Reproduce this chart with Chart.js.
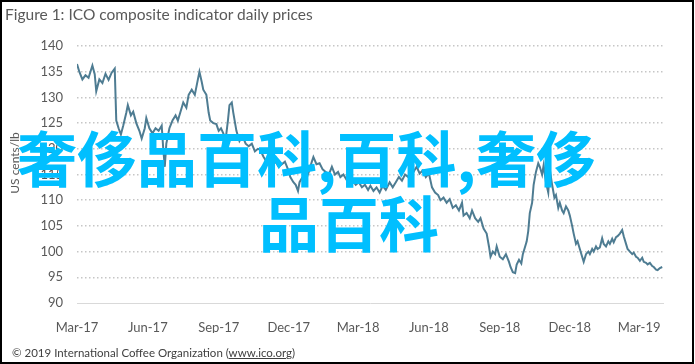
<!DOCTYPE html>
<html>
<head>
<meta charset="utf-8">
<script src="https://cdn.jsdelivr.net/npm/chart.js@4.4.1/dist/chart.umd.min.js"></script>
<style>
  html, body { margin: 0; padding: 0; background: #fff; }
  #wrap { position: relative; width: 695px; height: 364px; overflow: hidden; }
  #frame { position: absolute; left: 0; top: 0; width: 694px; height: 364px; box-sizing: border-box; border: 2px solid #000; pointer-events: none; }
  #chart-box { position: absolute; left: 0; top: 0; width: 695px; height: 364px; }
  .txt { position: absolute; font-family: Lato, 'Open Sans', sans-serif; color: #595959; white-space: nowrap; }
  #title { left: 5px; top: 5px; font-size: 15.5px; }
  #ytitle { left: 14px; top: 163px; font-size: 12px; transform: translate(-50%, -50%) rotate(-90deg); }
  #footer { left: 12px; top: 346px; font-size: 11.5px; color: #404040; }
  #footer u { text-decoration: underline; }
  .mark { position: absolute; font-family: 'Noto Sans CJK SC', sans-serif; font-weight: 700; font-size: 60px; line-height: 60px; color: #00bfff; white-space: nowrap; pointer-events: none; }
  #mark1 { left: 17px; top: 126px; }
  #mark2 { left: 259px; top: 191px; }
</style>
</head>
<body>
<div id="wrap">
  <div id="chart-box"><canvas id="main-chart"></canvas></div>
  <div class="txt" id="title">Figure 1: ICO composite indicator daily prices</div>
  <div class="txt" id="ytitle">US cents/lb</div>
  <div class="txt" id="footer">© 2019 International Coffee Organization (<u>www.ico.org</u>)</div>
  <div class="mark" id="mark1">奢侈品百科,百科,奢侈</div>
  <div class="mark" id="mark2">品百科</div>
  <div id="frame"></div>
</div>
<script>
// days since 1 Mar 2017
const days = [0, 3, 7, 11, 15, 20, 23, 25, 29, 33, 37, 41, 45, 49, 51, 54, 57, 60, 64, 66,
  70, 73, 77, 81, 84, 88, 90, 94, 98, 102, 106, 110, 112, 114, 116, 120, 124, 128, 131, 135,
  138, 142, 145, 149, 153, 157, 159, 162, 164, 168, 171, 173, 177, 181, 184, 187, 190, 193, 196, 198,
  201, 203, 207, 211, 215, 219, 223, 227, 231, 235, 238, 242, 246, 250, 254, 258, 262, 266, 270, 274,
  277, 281, 284, 287, 289, 293, 297, 301, 305, 307, 311, 315, 319, 323, 327, 331, 335, 339, 342, 346,
  350, 354, 358, 362, 366, 370, 374, 378, 381, 385, 389, 393, 397, 401, 406, 410, 414, 418, 422, 426,
  430, 433, 437, 441, 445, 449, 453, 457, 461, 465, 469, 472, 476, 480, 484, 488, 492, 496, 500, 502,
  506, 510, 513, 517, 521, 524, 528, 532, 535, 537, 540, 543, 545, 549, 553, 557, 561, 563, 566, 569,
  571, 574, 577, 579, 582, 584, 586, 588, 591, 593, 596, 599, 601, 604, 606, 609, 612, 614, 617, 620,
  622, 625, 627, 630, 632, 635, 638, 640, 643, 645, 648, 650, 653, 656, 658, 661, 664, 666, 669, 671,
  674, 676, 679, 682, 684, 687, 690, 692, 695, 697, 700, 702, 705, 708, 710, 713, 715, 718, 721, 723,
  726, 728, 731, 734, 736, 739, 741, 744, 747, 749, 752, 754, 757, 760];
const prices = [136.5, 135.0, 133.5, 134.3, 133.8, 136.2, 134.5, 131.2, 133.5, 132.8, 134.6, 133.4, 134.8, 135.6, 125.5, 124.0, 122.8, 124.5, 127.0, 128.5,
  126.5, 127.2, 125.0, 123.5, 122.0, 124.0, 126.0, 124.0, 123.0, 124.0, 123.5, 124.5, 120.0, 116.5, 121.0, 124.0, 125.5, 126.5, 125.5, 127.5,
  129.0, 128.0, 130.5, 131.5, 130.5, 133.5, 135.0, 133.0, 131.5, 130.5, 127.0, 125.5, 125.0, 124.8, 123.5, 124.0, 123.0, 121.8, 125.5, 128.5,
  129.0, 127.0, 123.5, 121.5, 122.5, 121.0, 120.5, 121.0, 119.5, 120.0, 119.8, 118.5, 117.5, 118.2, 116.8, 117.5, 116.5, 117.0, 117.5, 116.0,
  114.5, 113.5, 113.0, 111.8, 113.5, 114.5, 113.8, 115.5, 117.5, 118.4, 117.0, 117.2, 116.0, 115.5, 115.0, 116.5, 115.0, 115.5, 114.5, 115.0,
  114.0, 114.8, 113.8, 113.0, 113.5, 112.5, 113.0, 112.0, 112.8, 111.8, 112.5, 111.5, 112.8, 112.0, 113.5, 112.5, 113.5, 114.5, 113.8, 115.0,
  114.5, 116.0, 115.5, 116.5, 115.2, 115.8, 114.5, 115.2, 112.5, 111.5, 111.0, 110.0, 110.5, 109.5, 110.2, 108.5, 109.0, 108.0, 109.5, 107.0,
  107.5, 106.5, 108.0, 106.5, 105.8, 106.5, 104.5, 103.5, 101.0, 99.0, 100.0, 99.5, 101.0, 99.0, 98.5, 99.5, 98.0, 97.0, 96.0, 95.8,
  97.5, 98.4, 97.7, 99.5, 101.0, 102.0, 104.0, 107.5, 109.5, 113.0, 115.5, 117.2, 116.5, 115.0, 116.8, 113.5, 111.5, 116.0, 113.0, 110.5,
  111.0, 108.5, 109.5, 108.0, 107.5, 108.8, 108.0, 107.0, 105.0, 103.5, 101.5, 102.0, 100.5, 99.0, 98.0, 99.5, 100.0, 99.5, 100.5, 100.0,
  101.0, 100.5, 100.8, 102.6, 101.5, 101.0, 102.0, 101.5, 102.5, 101.8, 102.8, 103.0, 103.5, 104.2, 103.0, 101.5, 100.5, 100.0, 99.5, 99.8,
  99.0, 98.8, 98.2, 98.8, 98.0, 97.8, 97.5, 97.8, 97.2, 97.0, 96.5, 96.4, 96.8, 97.0];

const tickDays = [0, 92, 184, 275, 365, 457, 549, 640, 730];
const tickLabels = ['Mar-17', 'Jun-17', 'Sep-17', 'Dec-17', 'Mar-18', 'Jun-18', 'Sep-18', 'Dec-18', 'Mar-19'];

const tickFont = { family: 'Lato, "Open Sans", sans-serif', size: 13 };

new Chart(document.getElementById('main-chart'), {
  type: 'line',
  data: {
    datasets: [{
      data: days.map((d, i) => ({ x: d, y: prices[i] })),
      borderColor: '#4e7c92',
      borderWidth: 2,
      pointRadius: 0,
      tension: 0,
      fill: false
    }]
  },
  options: {
    responsive: true,
    maintainAspectRatio: false,
    animation: false,
    layout: { padding: { top: 46, right: 32, bottom: 31, left: 0 } },
    plugins: { legend: { display: false }, tooltip: { enabled: false } },
    scales: {
      x: {
        type: 'linear', min: 0, max: 761,
        afterBuildTicks: s => { s.ticks = tickDays.map(v => ({ value: v })); },
        afterFit: s => { s.height = 30; },
        ticks: { callback: (v, i) => tickLabels[i], autoSkip: false, maxRotation: 0, color: '#595959', font: tickFont, padding: 9 },
        grid: { display: false },
        border: { display: true, color: '#d9d9d9', width: 1 }
      },
      y: {
        min: 90, max: 140,
        afterFit: s => { s.width = 77; },
        ticks: { stepSize: 5, color: '#595959', font: tickFont, padding: 14 },
        grid: { color: c => c.tick.value === 90 ? 'rgba(0,0,0,0)' : '#c6c6c6', lineWidth: 1.5, drawTicks: false },
        border: { display: false, dash: [1.5, 2.5] }
      }
    }
  }
});
</script>
</body>
</html>
